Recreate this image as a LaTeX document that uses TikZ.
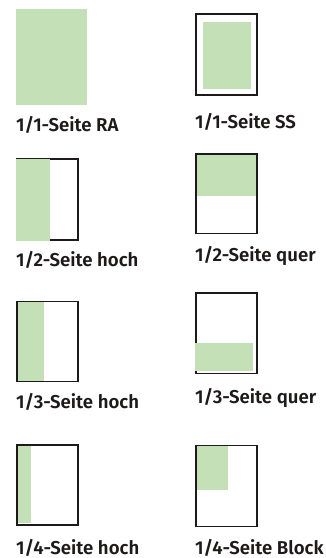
\documentclass[tikz,border=0pt]{standalone}
\usepackage{fontspec}
\setmainfont{Fira Sans}
\newfontfamily\labfont{Fira Sans SemiBold}
\definecolor{adgreen}{RGB}{195,224,183}
\definecolor{frame}{RGB}{30,26,26}
\tikzset{
  fill area/.style={fill=adgreen, draw=none},
  page frame/.style={draw=frame, line width=1.6pt},
  lab/.style={anchor=base west, inner sep=0pt, font=\labfont\fontsize{18.6}{18.6}\selectfont, text=frame}
}
\begin{document}
\begin{tikzpicture}[x=1pt,y=-1pt]
\useasboundingbox (0,0) rectangle (325,558);
% Row 1
\fill[fill area] (16,9) rectangle (87,105);
\node[lab] (l1) at (16,131) {1/1-Seite RA};
\fill[fill area] (203,22) rectangle (250.5,88.5);
\draw[page frame, line width=2.2pt] (196.2,13.8) rectangle (256.6,94.6);
\node[lab] (r1) at (195,128) {1/1-Seite SS};
% Row 2
\draw[page frame] (16.8,159.1) rectangle (77.9,239.9);
\fill[fill area] (16,158.5) rectangle (50,240.5);
\node[lab] (l2) at (16,266) {1/2-Seite hoch};
\fill[fill area] (195.5,154) rectangle (257,195.7);
\draw[page frame] (195.8,154.1) rectangle (256.9,233.5);
\node[lab] (r2) at (195,261) {1/2-Seite quer};
% Row 3
\draw[page frame] (16.8,301.5) rectangle (77.9,381.5);
\fill[fill area] (17.6,302.3) rectangle (44,381);
\node[lab] (l3) at (16,408) {1/3-Seite hoch};
\draw[page frame] (195.8,293.1) rectangle (256.9,373.5);
\fill[fill area] (195,342.7) rectangle (253.3,371);
\node[lab] (r3) at (195,403) {1/3-Seite quer};
% Row 4
\draw[page frame] (16.8,444.8) rectangle (77.9,525.2);
\fill[fill area] (18,445.6) rectangle (31,522.7);
\node[lab] (l4) at (16,554.5) {1/4-Seite hoch};
\draw[page frame] (195.8,445.5) rectangle (256.9,526.5);
\fill[fill area] (197.3,446.3) rectangle (228,490);
\node[lab] (r4) at (195,554.5) {1/4-Seite Block};
\end{tikzpicture}
\end{document}
